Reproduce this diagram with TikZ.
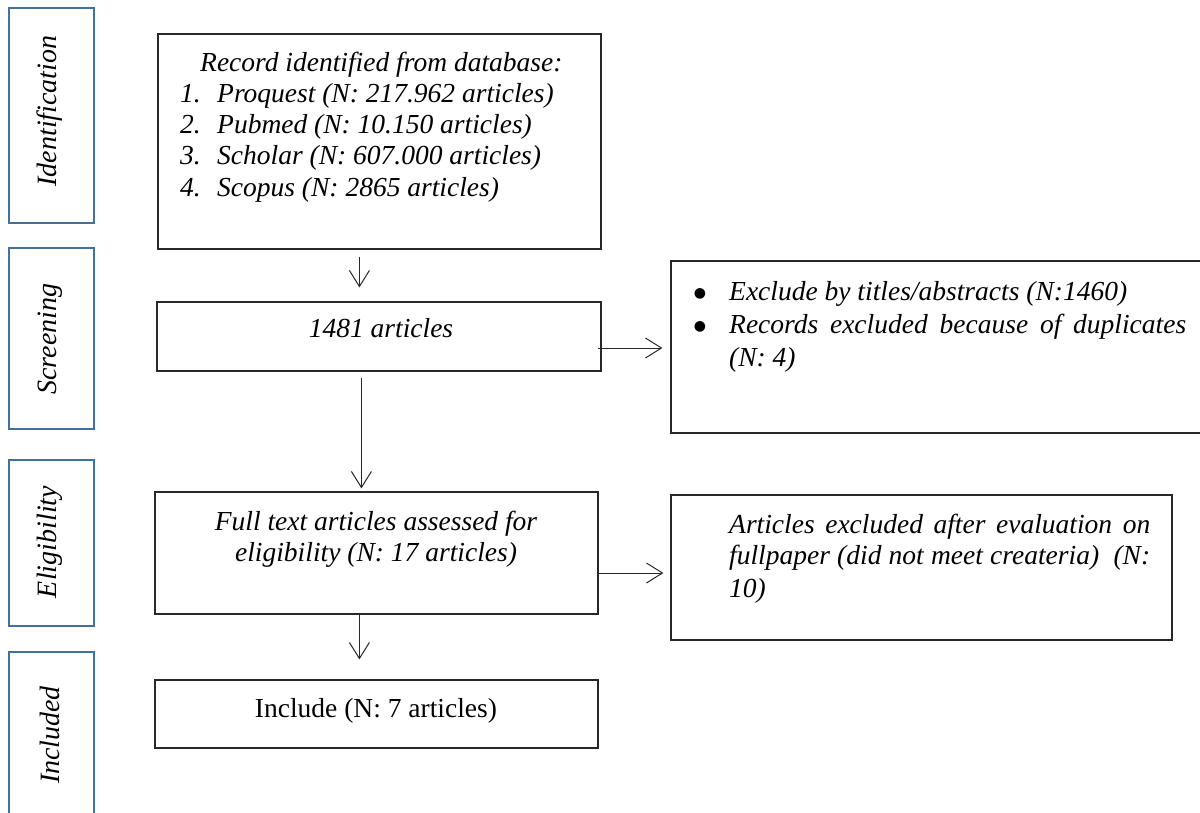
\documentclass[tikz,border=0pt]{standalone}
\usepackage{fontspec}
\setmainfont{Liberation Serif}
\newfontfamily\symfont{DejaVu Sans}
\usetikzlibrary{arrows.meta}
\definecolor{lblue}{RGB}{65,113,156}
\definecolor{boxline}{RGB}{40,40,40}
\begin{document}
\begin{tikzpicture}[x=1pt,y=-1pt,
  box/.style={draw=boxline,line width=1.2pt,inner sep=0pt},
  lbox/.style={draw=lblue,line width=1.1pt,inner sep=0pt},
  txt/.style={inner sep=0pt,anchor=base west,font=\fontsize{27.5}{32}\selectfont\itshape},
  ctxt/.style={inner sep=0pt,anchor=base,font=\fontsize{27.5}{32}\selectfont\itshape},
  rtxt/.style={inner sep=0pt,anchor=base,font=\fontsize{27.5}{32}\selectfont},
  bul/.style={inner sep=0pt,anchor=base,font=\symfont\fontsize{14}{16}\selectfont},
  lab/.style={inner sep=0pt,rotate=90,font=\fontsize{28}{32}\selectfont\itshape},
  arr/.style={-{Straight Barb[length=16pt,width=20pt]},line width=1pt,draw=boxline}]
\useasboundingbox (0,0) rectangle (1200,812);

% stage labels
\node[lbox,minimum width=85pt,minimum height=215pt] (L1) at (51.5,115.5) {};
\node[lab] (t1) at (50,111) {Identification};
\node[lbox,minimum width=85pt,minimum height=181pt] (L2) at (51.5,338.5) {};
\node[lab] (t2) at (50,339) {Screening};
\node[lbox,minimum width=85pt,minimum height=166pt] (L3) at (51.5,543) {};
\node[lab] (t3) at (50,542) {Eligibility};
\node[lbox,minimum width=85pt,minimum height=170pt] (L4) at (51.5,737) {};
\node[lab] (t4) at (50,735) {Included};

% main boxes
\node[box,minimum width=443pt,minimum height=215pt] (b1) at (379.5,141.5) {};
\node[txt] (b1l0) at (200,71) {Record identified from database:};
\node[txt] (n1) at (180,102) {1.};
\node[txt] (b1l1) at (217,102) {Proquest (N: 217.962 articles)};
\node[txt] (n2) at (180,133) {2.};
\node[txt] (b1l2) at (217,133) {Pubmed (N: 10.150 articles)};
\node[txt] (n3) at (180,164) {3.};
\node[txt] (b1l3) at (217,164) {Scholar (N: 607.000 articles)};
\node[txt] (n4) at (180,196) {4.};
\node[txt] (b1l4) at (217,196) {Scopus (N: 2865 articles)};

\node[box,minimum width=444pt,minimum height=69pt] (b2) at (379,336.5) {};
\node[ctxt] (b2t) at (381,337) {1481 articles};

\node[box,minimum width=443pt,minimum height=122pt] (b3) at (376.5,553) {};
\node[ctxt] (b3l1) at (376,530) {Full text articles assessed for};
\node[ctxt] (b3l2) at (376,561) {eligibility (N: 17 articles)};

\node[box,minimum width=443pt,minimum height=68pt] (b4) at (376.5,714) {};
\node[rtxt] (b4t) at (376,717) {Include (N: 7 articles)};

% right boxes
\node[box,minimum width=539pt,minimum height=172pt] (rb1) at (940.5,347) {};
\node[bul] (bu1) at (700,297) {●};
\node[txt] (r1l1) at (729,300) {Exclude by titles/abstracts (N:1460)};
\node[bul] (bu2) at (700,330) {●};
\node[txt] (r1l2) at (729,333) {\makebox[457pt][s]{Records excluded because of duplicates}};
\node[txt] (r1l3) at (729,366) {(N: 4)};

\node[box,minimum width=501pt,minimum height=145pt] (rb2) at (921.5,567.5) {};
\node[txt] (r2l1) at (729,533) {\makebox[421pt][s]{Articles excluded after evaluation on}};
\node[txt] (r2l2) at (729,564) {\makebox[421pt][s]{fullpaper (did not meet createria)\ \ (N:}};
\node[txt] (r2l3) at (729,597) {10)};

% connectors
\draw[arr] ([xshift=202pt,yshift=-7pt]b1.south west) -- ([xshift=203pt,yshift=14pt]b2.north west);
\draw[arr] ([xshift=-4pt,yshift=-11.5pt]b2.east) -- ([xshift=-8pt,yshift=-1pt]rb1.west);
\draw[arr] ([xshift=205pt,yshift=-6pt]b2.south west) -- ([xshift=207pt,yshift=3pt]b3.north west);
\draw[arr] ([xshift=-1pt,yshift=-20pt]b3.east) -- ([xshift=-7pt,yshift=-5.5pt]rb2.west);
\draw[arr] ([xshift=205pt]b3.south west) -- ([xshift=205pt,yshift=20pt]b4.north west);
\end{tikzpicture}
\end{document}
